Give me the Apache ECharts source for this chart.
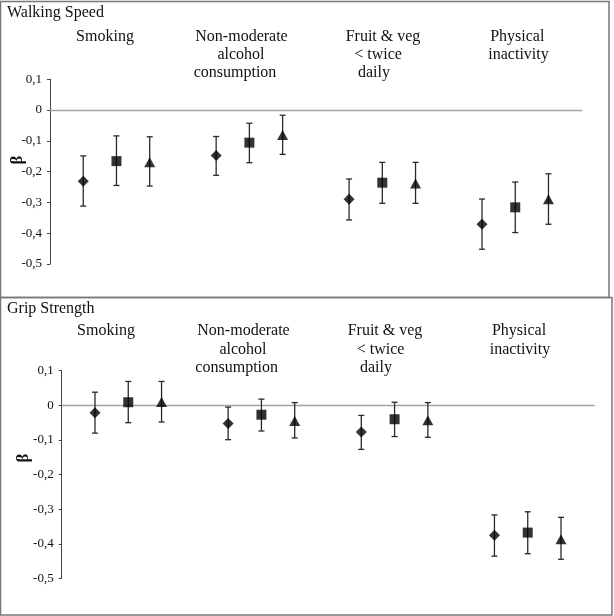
<!DOCTYPE html>
<html>
<head>
<meta charset="utf-8">
<script src="https://cdn.jsdelivr.net/npm/echarts@6/dist/echarts.min.js"></script>
<style>
  html, body { margin: 0; padding: 0; background: #fff; }
  #chart { width: 614px; height: 616px; }
</style>
</head>
<body>
<div id="chart"></div>
<script>
// Four risk factors, three models per factor (diamond / square / triangle)
const categories = ['Smoking', 'Non-moderate alcohol consumption', 'Fruit & veg < twice daily', 'Physical inactivity'];
const yTicks = [0.1, 0, -0.1, -0.2, -0.3, -0.4, -0.5];

// Walking speed: beta and 95% CI
const walkM1 = [-0.231, -0.148, -0.290, -0.371];
const walkM1Lo = [-0.312, -0.212, -0.357, -0.452];
const walkM1Hi = [-0.149, -0.086, -0.224, -0.289];
const walkM2 = [-0.166, -0.106, -0.236, -0.316];
const walkM2Lo = [-0.245, -0.171, -0.303, -0.398];
const walkM2Hi = [-0.084, -0.043, -0.170, -0.234];
const walkM3 = [-0.170, -0.081, -0.239, -0.290];
const walkM3Lo = [-0.247, -0.144, -0.303, -0.371];
const walkM3Hi = [-0.087, -0.017, -0.170, -0.207];

// Grip strength: beta and 95% CI
const gripM1 = [-0.021, -0.052, -0.077, -0.375];
const gripM1Lo = [-0.080, -0.099, -0.127, -0.435];
const gripM1Hi = [0.038, -0.005, -0.029, -0.316];
const gripM2 = [0.009, -0.027, -0.040, -0.367];
const gripM2Lo = [-0.050, -0.074, -0.090, -0.428];
const gripM2Hi = [0.069, 0.018, 0.009, -0.307];
const gripM3 = [0.010, -0.045, -0.043, -0.386];
const gripM3Lo = [-0.048, -0.094, -0.092, -0.444];
const gripM3Hi = [0.069, 0.008, 0.008, -0.323];

const SERIF = '"Liberation Serif", "Times New Roman", serif';
const INK = '#111';
const BAR = '#2a2a2a';
const OFFSETS = [-0.25, 0, 0.25];
const SYMBOLS = [['diamond', [11, 11]], ['rect', [10, 10]], ['triangle', [11, 10]]];

const chart = echarts.init(document.getElementById('chart'), null, { renderer: 'canvas' });

function fmt(v) {
  const r = Math.round(v * 10) / 10;
  return String(r).replace('.', ',');
}

function renderErr(params, api) {
  const x = api.value(0);
  const lo = api.coord([x, api.value(1)]);
  const hi = api.coord([x, api.value(2)]);
  const cap = 3;
  const style = { stroke: BAR, lineWidth: 1.3 };
  return {
    type: 'group',
    children: [
      { type: 'line', shape: { x1: lo[0], y1: lo[1], x2: hi[0], y2: hi[1] }, style },
      { type: 'line', shape: { x1: lo[0] - cap, y1: lo[1], x2: lo[0] + cap, y2: lo[1] }, style },
      { type: 'line', shape: { x1: hi[0] - cap, y1: hi[1], x2: hi[0] + cap, y2: hi[1] }, style },
    ],
  };
}

function panelSeries(gi, models) {
  const out = [];
  models.forEach((m, s) => {
    out.push({
      type: 'custom', xAxisIndex: gi, yAxisIndex: gi,
      renderItem: renderErr, silent: true, z: 2,
      data: m.est.map((_, i) => [i + OFFSETS[s], m.lo[i], m.hi[i]]),
    });
  });
  models.forEach((m, s) => {
    out.push({
      name: 'Model ' + (s + 1),
      type: 'scatter', xAxisIndex: gi, yAxisIndex: gi, z: 3,
      symbol: SYMBOLS[s][0], symbolSize: SYMBOLS[s][1],
      itemStyle: { color: '#000' },
      data: m.est.map((v, i) => [i + OFFSETS[s], v]),
    });
  });
  return out;
}

function xAxis(gi) {
  return {
    gridIndex: gi, type: 'value', min: -0.5, max: 3.5,
    axisLine: { show: true, onZero: true, lineStyle: { color: '#a3a3a3', width: 1.3 } },
    axisTick: { show: false }, axisLabel: { show: false }, splitLine: { show: false },
  };
}

function yAxis(gi) {
  return {
    gridIndex: gi, type: 'value', min: -0.5, max: 0.1, interval: 0.1,
    axisLine: { show: true, onZero: false, lineStyle: { color: '#444', width: 1 } },
    axisTick: { show: true, length: 3, lineStyle: { color: '#444' } },
    axisLabel: { color: INK, fontFamily: SERIF, fontSize: 13, margin: 8, formatter: fmt },
    splitLine: { show: false },
  };
}

function txt(text, x, y, align) {
  return {
    type: 'text', x: x, y: y, silent: true,
    style: { text, fill: INK, font: '16px ' + SERIF, textAlign: align || 'center', textVerticalAlign: 'middle' },
  };
}

function beta(x, y) {
  return {
    type: 'text', x: x, y: y, rotation: Math.PI / 2, silent: true,
    style: { text: 'β', fill: INK, font: 'bold 17px ' + SERIF, textAlign: 'center', textVerticalAlign: 'middle' },
  };
}

const graphic = [
  { type: 'rect', shape: { x: 0.5, y: 1.5, width: 608.5, height: 296 }, style: { fill: 'none', stroke: '#777', lineWidth: 1.5 } },
  { type: 'rect', shape: { x: 0.5, y: 297.5, width: 611.5, height: 317.5 }, style: { fill: 'none', stroke: '#777', lineWidth: 1.5 } },
  // top panel
  txt('Walking Speed', 7, 12.5, 'left'),
  txt('Smoking', 105, 36.3),
  txt('Non-moderate', 241.5, 36.3), txt('alcohol', 241, 54.5), txt('consumption', 235, 72.7),
  txt('Fruit & veg', 383, 36.3), txt('< twice', 378, 54.5), txt('daily', 374, 72.7),
  txt('Physical', 517.3, 36.3), txt('inactivity', 518.5, 54.5),
  beta(17.5, 160),
  // bottom panel
  txt('Grip Strength', 7, 308.3, 'left'),
  txt('Smoking', 106, 331),
  txt('Non-moderate', 243.5, 331), txt('alcohol', 243, 349.3), txt('consumption', 236.7, 367.7),
  txt('Fruit & veg', 385, 331), txt('< twice', 380.5, 349.3), txt('daily', 376, 367.7),
  txt('Physical', 519, 331), txt('inactivity', 520, 349.3),
  beta(24, 458),
];

const walkModels = [
  { est: walkM1, lo: walkM1Lo, hi: walkM1Hi },
  { est: walkM2, lo: walkM2Lo, hi: walkM2Hi },
  { est: walkM3, lo: walkM3Lo, hi: walkM3Hi },
];
const gripModels = [
  { est: gripM1, lo: gripM1Lo, hi: gripM1Hi },
  { est: gripM2, lo: gripM2Lo, hi: gripM2Hi },
  { est: gripM3, lo: gripM3Lo, hi: gripM3Hi },
];

chart.setOption({
  animation: false,
  backgroundColor: '#fff',
  grid: [
    { left: 50, right: 32.3, top: 79.2, bottom: 352 },
    { left: 61.7, right: 19.7, top: 370.7, bottom: 37.3 },
  ],
  xAxis: [xAxis(0), xAxis(1)],
  yAxis: [yAxis(0), yAxis(1)],
  graphic: graphic,
  series: panelSeries(0, walkModels).concat(panelSeries(1, gripModels)),
});
</script>
</body>
</html>
